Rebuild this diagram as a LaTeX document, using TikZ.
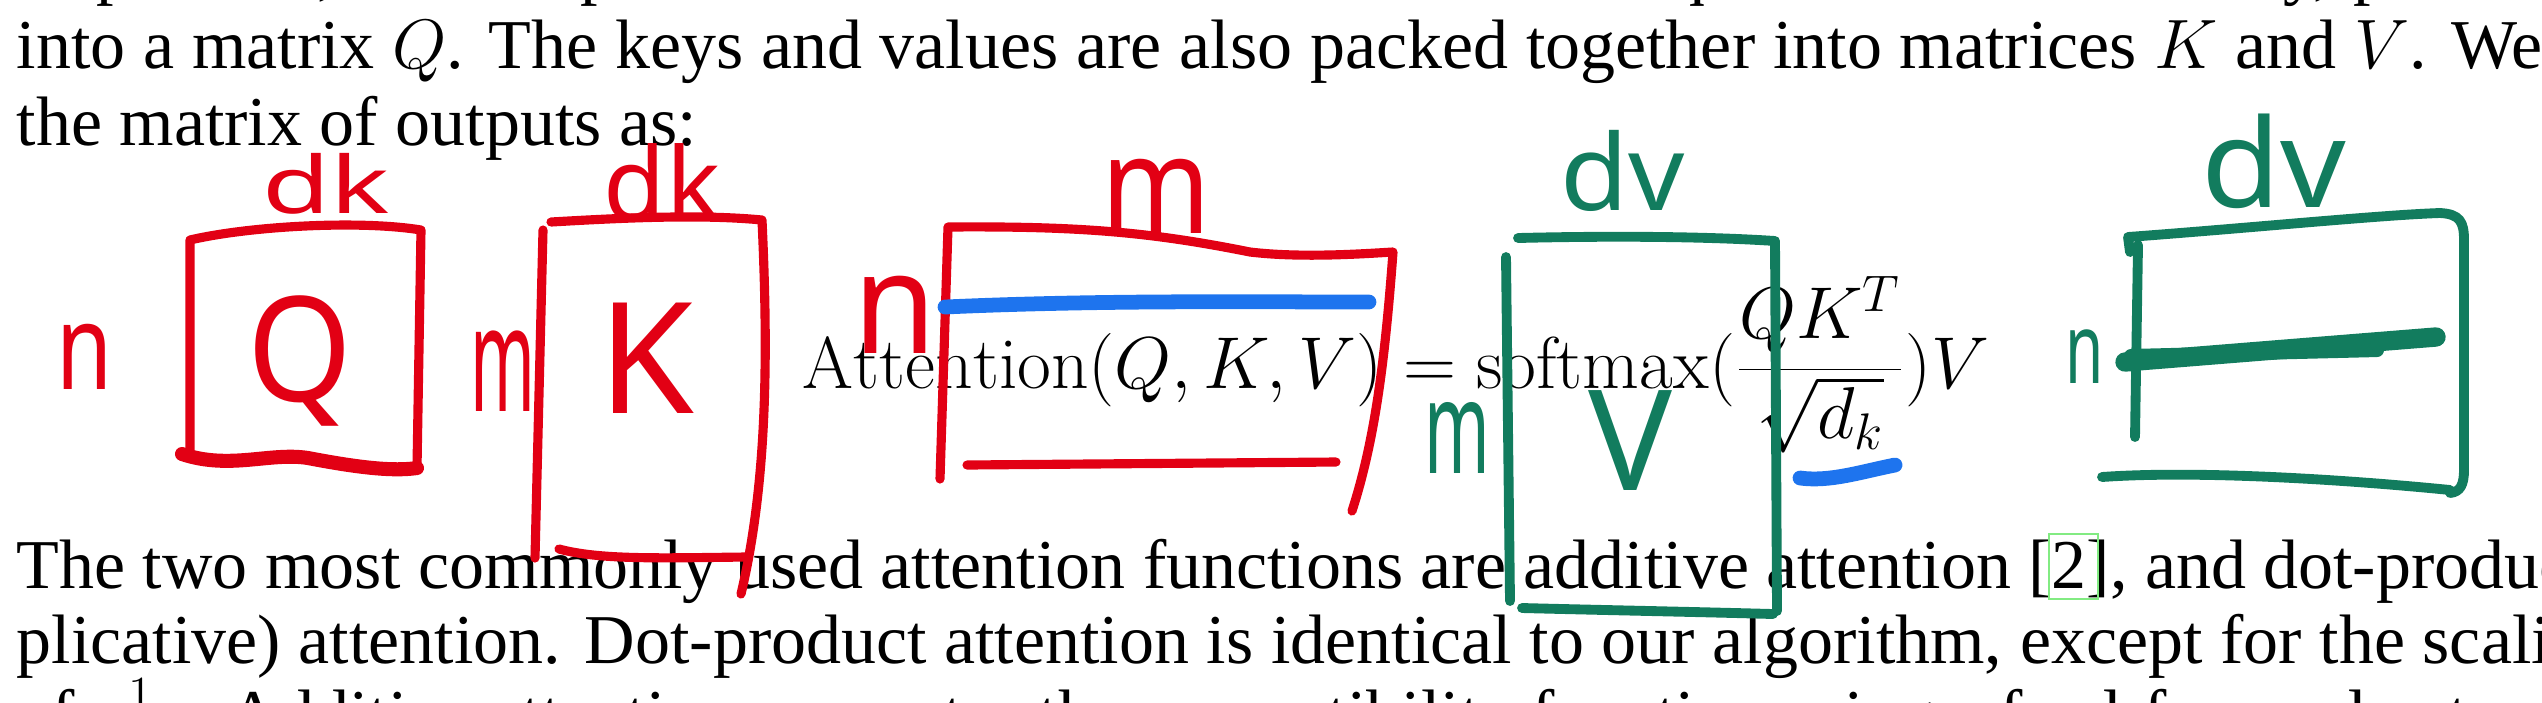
\RequirePackage{fix-cm}
\documentclass[tikz,border=0pt]{standalone}
\usepackage{fontspec}
\newfontfamily\papertext{Liberation Serif}
\newfontfamily\pen{Noto Sans}
\usetikzlibrary{positioning}
\definecolor{penRed}{RGB}{226,0,20}
\definecolor{penGreen}{RGB}{18,124,94}
\definecolor{penBlue}{RGB}{30,116,238}
\definecolor{linkGreen}{RGB}{130,235,130}
\newcommand{\handsize}[1]{\fontsize{#1}{#1}\selectfont}

\begin{document}
\begin{tikzpicture}[
  x=0.01cm,
  y=-0.01cm,
  para/.style={
    anchor=base west,
    inner sep=0,
    font=\papertext\fontsize{19.9}{21.9}\selectfont
  },
  hand/.style={anchor=base,inner sep=0,font={\pen\handsize{#1}}},
  redpen/.style={penRed,line width=2.6pt,line cap=round,line join=round},
  greenpen/.style={penGreen,line width=2.8pt,line cap=round,line join=round},
  bluepen/.style={penBlue,line width=4.2pt,line cap=round}
]
  \useasboundingbox (0,0) rectangle (2542,702);
  \clip (0,0) rectangle (2542,702);

  \node[para] (line0) at (16,-9)
    {\makebox[27.83cm][s]{In practice, we compute the attention function on a set of queries simultaneously, packed together}};
  \node[para] (line1) at (16,68)
    {\makebox[27.83cm][s]{into a matrix $Q$. The keys and values are also packed together into matrices $K$ and $V$. We compute}};
  \node[para] (line2) at (16,145) {the matrix of outputs as:};
  \node[anchor=base west,inner sep=0,font=\fontsize{20.9}{23}\selectfont] (attn) at (802,388)
    {$\displaystyle\mathrm{Attention}(Q, K, V) = \mathrm{softmax}(\frac{QK^T}{\sqrt{d_k}})V$};
  \node[para] (line3) at (16,588)
    {\makebox[27.83cm][s]{The two most commonly used attention functions are additive attention [2], and dot-product (multi-}};
  \node[para] (line4) at (16,663)
    {\makebox[27.83cm][s]{plicative) attention. Dot-product attention is identical to our algorithm, except for the scaling factor}};
  \node[para] (line5) at (16,738)
    {\makebox[27.83cm][s]{of $\frac{1}{\sqrt{d_k}}$. Additive attention computes the compatibility function using a feed-forward network with a}};
  \draw[linkGreen,line width=0.8pt] (2049,534) rectangle (2098,599);

  % Q
  \draw[redpen] (190,451) -- (190,240) .. controls (250,226) and (360,220) .. (421,230) -- (417,468);
  \draw[redpen,line width=4pt] (182,454) .. controls (230,470) and (270,452) .. (308,458)
    .. controls (350,466) and (390,472) .. (417,468);
  \node[hand=34,penRed,xscale=0.76] (nQ) at (85,389) {n};
  \node[hand=22.5,penRed,xscale=1.4] (dkQ) at (326,213) {dk};
  \node[hand=41.5,penRed,xscale=0.92] (labQ) at (300,401) {Q};

  % K
  \draw[redpen] (543,230) -- (535,558);
  \draw[redpen] (551,222) .. controls (620,218) and (700,214) .. (762,220)
    .. controls (768,350) and (768,480) .. (741,594);
  \draw[redpen] (559,549) .. controls (600,560) and (660,558) .. (746,557);
  \node[hand=42,penRed,xscale=0.47] (mK) at (503,411) {m};
  \node[hand=28.8,penRed] (dkK) at (662,220) {dk};
  \node[hand=44,penRed] (labK) at (646,413) {K};

  % softmax
  \draw[redpen] (940,479) -- (948,227) .. controls (1080,226) and (1150,232) .. (1250,252)
    .. controls (1300,258) and (1360,254) .. (1393,252) .. controls (1385,360) and (1375,440) .. (1352,511);
  \draw[redpen] (967,465) -- (1336,462);
  \draw[bluepen] (945,307) .. controls (1100,300) and (1250,302) .. (1369,302);
  \node[hand=40.3,penRed,xscale=0.95] (nS) at (895,353) {n};
  \node[hand=38.7,penRed,xscale=0.86] (mS) at (1156,233) {m};

  % V
  \draw[greenpen] (1518,238) .. controls (1600,236) and (1700,236) .. (1775,241) -- (1777,611);
  \draw[greenpen] (1506,257) -- (1510,601);
  \draw[greenpen] (1522,608) .. controls (1600,610) and (1700,612) .. (1773,614);
  \node[hand=37,penGreen,xscale=0.54] (mV) at (1457,473) {m};
  \node[hand=30,penGreen,xscale=1.05] (dvV) at (1623,210) {dv};
  \node[hand=39.8,penGreen] (labV) at (1630,490) {V};
  \draw[bluepen] (1800,478) .. controls (1830,482) and (1860,472) .. (1895,465);

  % output
  \draw[greenpen] (2130,252) -- (2128,237) .. controls (2250,228) and (2380,215) .. (2440,213)
    .. controls (2460,214) and (2464,222) .. (2464,240) -- (2464,470)
    .. controls (2464,485) and (2460,492) .. (2450,493);
  \draw[greenpen] (2102,477) .. controls (2200,470) and (2350,480) .. (2450,490);
  \draw[greenpen] (2138,245) -- (2135,437);
  \draw[greenpen,line width=5.5pt] (2125,362) -- (2436,337);
  \draw[greenpen,line width=4pt] (2131,356) -- (2377,350);
  \node[hand=28,penGreen,xscale=0.63] (nO) at (2085,383) {n};
  \node[hand=35,penGreen,xscale=1.05] (dvO) at (2274,207) {dv};
\end{tikzpicture}
\end{document}
